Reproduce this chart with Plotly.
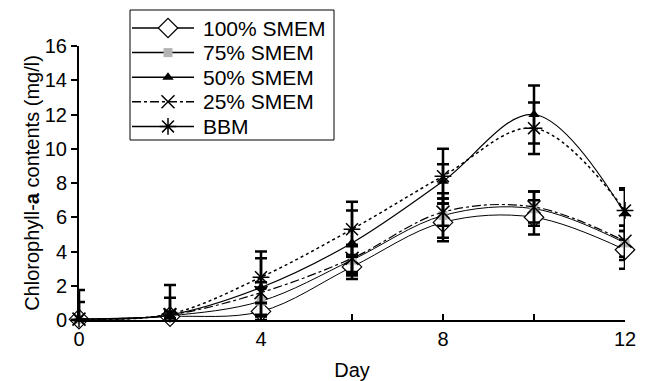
import plotly.graph_objects as go

days = [0, 2, 4, 6, 8, 10, 12]
smem100 = [0.05, 0.2, 0.5, 3.1, 5.7, 6.0, 4.1]
smem75 = [0.05, 0.25, 1.1, 3.5, 6.1, 6.5, 4.5]
smem50 = [0.05, 0.3, 1.9, 4.5, 8.1, 12.0, 6.2]
smem25 = [0.05, 0.3, 1.6, 3.6, 6.3, 6.6, 4.6]
bbm = [0.05, 0.35, 2.5, 5.3, 8.4, 11.2, 6.4]

err100 = [0, 0.2, 0.5, 0.7, 1.1, 1.0, 1.1]
err75 = [0, 0.2, 0.8, 0.8, 1.3, 1.0, 1.0]
err50 = [1.0, 1.0, 1.7, 1.9, 1.0, 1.7, 1.5]
err25 = [0, 0.2, 0.6, 0.8, 0.8, 0.9, 0.9]
errbbm = [1.7, 1.7, 1.5, 1.6, 1.6, 1.5, 1.2]

names = ["100% SMEM", "75% SMEM", "50% SMEM", "25% SMEM", "BBM"]
x_ticks = [0, 2, 4, 6, 8, 10, 12]
x_labels = ["0", "", "4", "", "8", "", "12"]
y_ticks = [0, 2, 4, 6, 8, 10, 12, 14, 16]

series = [
    (names[0], smem100, err100, dict(symbol="diamond", size=15, color="white", line=dict(color="black", width=1.2)), dict(color="black", width=1, dash="solid"), "solid"),
    (names[1], smem75, err75, dict(symbol="square", size=9, color="#b4b4b4", line=dict(width=0)), dict(color="black", width=1, dash="solid"), "solid"),
    (names[2], smem50, err50, dict(symbol="triangle-up", size=10, color="black", line=dict(width=0)), dict(color="black", width=1.2, dash="solid"), "solid"),
    (names[3], smem25, err25, dict(symbol="x-thin-open", size=13, color="black", line=dict(color="black", width=1.5)), dict(color="black", width=1.2, dash="dashdot"), "dashdot"),
    (names[4], bbm, errbbm, dict(symbol="asterisk-open", size=14, color="black", line=dict(color="black", width=1.5)), dict(color="black", width=1.5, dash="dot"), "solid"),
]

# layout geometry (pixels)
W, H = 649, 381
ML, MR, MT, MB = 79, 24, 46, 61

fig = go.Figure()
for name, ys, err, mk, ln, legdash in series:
    minus = [0 if d == 0 else e for d, e in zip(days, err)]
    fig.add_trace(go.Scatter(
        x=days, y=ys, mode="lines+markers", name=name, showlegend=False,
        line=dict(shape="spline", **ln), marker=mk, cliponaxis=False,
        error_y=dict(type="data", array=err, arrayminus=minus, color="black", thickness=2.5, width=6),
        hoverinfo="skip",
    ))

# custom legend drawn on a full-page pixel subplot (x2/y2)
LEG_L, LEG_R, LEG_T, LEG_B = 130, 334, 10, 140
ROW0, ROWSTEP = 28, 24.6
KEY_X0, KEY_X1, KEY_M, TXT_X = 132, 194, 168, 201
shapes = [dict(type="rect", xref="x2", yref="y2", x0=LEG_L, x1=LEG_R, y0=LEG_B, y1=LEG_T,
               line=dict(color="black", width=1), fillcolor="white", layer="below")]
annotations = []
for i, (name, ys, err, mk, ln, legdash) in enumerate(series):
    ry = ROW0 + i * ROWSTEP
    shapes.append(dict(type="line", xref="x2", yref="y2", x0=KEY_X0, x1=KEY_X1, y0=ry, y1=ry,
                       line=dict(color="black", width=1.5, dash=legdash), layer="below"))
    annotations.append(dict(xref="x2", yref="y2", x=TXT_X, y=ry, xanchor="left", yanchor="middle",
                            text=name, showarrow=False, font=dict(size=21, color="black")))
    fig.add_trace(go.Scatter(
        x=[KEY_M], y=[ry], xaxis="x2", yaxis="y2", mode="markers", marker=mk,
        showlegend=False, cliponaxis=False, hoverinfo="skip",
    ))

fig.update_layout(
    width=W, height=H,
    margin=dict(l=0, r=0, t=0, b=0, autoexpand=False),
    paper_bgcolor="white", plot_bgcolor="rgba(0,0,0,0)",
    font=dict(family="Liberation Sans, Arial, sans-serif", size=20, color="black"),
    showlegend=False,
    shapes=shapes,
    annotations=annotations,
    xaxis=dict(
        domain=[ML / W, (W - MR) / W], anchor="y",
        range=[0, 12], tickvals=x_ticks, ticktext=x_labels, ticks="inside", ticklen=6,
        tickwidth=2, tickcolor="black", showline=True, linecolor="black", linewidth=2,
        showgrid=False, zeroline=False, automargin=False,
        title=dict(text="Day", font=dict(size=20), standoff=16),
    ),
    yaxis=dict(
        domain=[MB / H, (H - MT) / H], anchor="x",
        range=[0, 16], tickvals=y_ticks, ticks="outside", ticklen=6, tickwidth=2,
        tickcolor="black", showline=True, linecolor="black", linewidth=2,
        showgrid=False, zeroline=False, automargin=False,
        title=dict(text="Chlorophyll-<b>a</b> contents (mg/l)", font=dict(size=20), standoff=0),
    ),
    xaxis2=dict(domain=[0, 1], range=[0, W], visible=False, anchor="y2", fixedrange=True),
    yaxis2=dict(domain=[0, 1], range=[H, 0], visible=False, anchor="x2", fixedrange=True),
)

fig.write_html("out.html", config={"displayModeBar": False},
               post_script="document.body.style.margin='0';document.body.style.padding='0';")
